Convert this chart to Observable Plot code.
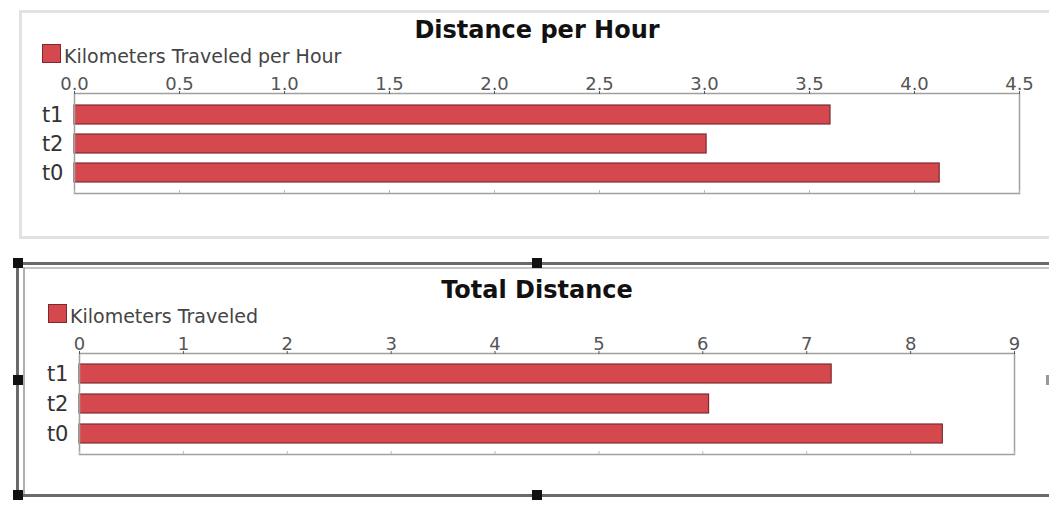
<!DOCTYPE html>
<html><head><meta charset="utf-8">
<script src="https://cdn.jsdelivr.net/npm/d3@7"></script>
<script src="https://cdn.jsdelivr.net/npm/@observablehq/plot@0.6"></script>
<style>
html,body{margin:0;padding:0;background:#fff;}
#page{position:relative;width:1049px;height:506px;overflow:hidden;font-family:"DejaVu Sans",sans-serif;}
#page svg{position:absolute;left:0;}
.title{position:absolute;left:0;width:1074px;text-align:center;font-weight:bold;font-size:24px;line-height:24px;color:#111;white-space:nowrap;}
.legtext{position:absolute;font-size:19px;line-height:19px;color:#444;white-space:nowrap;}
.legsw{position:absolute;width:17px;height:17px;background:#d5494e;border:1px solid #7a2a2c;}
.ln{position:absolute;}
.hd{position:absolute;width:10px;height:10px;background:#111;}
</style></head>
<body><div id="page">
<div class="ln" style="left:19px;top:10px;width:1040px;height:229px;border:3px solid #e2e2e2;box-sizing:border-box;"></div>
<div class="title" style="top:18px;">Distance per Hour</div>
<div class="legsw" style="left:42px;top:44px;"></div>
<div class="legtext" style="left:64px;top:47px;">Kilometers Traveled per Hour</div>

<div class="ln" style="left:24px;top:267px;width:1030px;height:2px;background:#c4c4c4;"></div>
<div class="ln" style="left:23px;top:267px;width:2px;height:228px;background:#b0b0b0;"></div>
<div class="ln" style="left:17px;top:262px;width:1040px;height:3px;background:#6a6a6a;"></div>
<div class="ln" style="left:17px;top:494px;width:1040px;height:3px;background:#6a6a6a;"></div>
<div class="ln" style="left:16px;top:262px;width:3px;height:235px;background:#6a6a6a;"></div>
<div class="title" style="top:278px;">Total Distance</div>
<div class="legsw" style="left:48px;top:304px;"></div>
<div class="legtext" style="left:70px;top:307px;">Kilometers Traveled</div>
<div class="hd" style="left:13px;top:258px;"></div>
<div class="hd" style="left:532px;top:258px;"></div>
<div class="hd" style="left:13px;top:375px;"></div>
<div class="hd" style="left:13px;top:490px;"></div>
<div class="hd" style="left:532px;top:490px;"></div>
<div class="hd" style="left:1046px;top:375px;background:#999;"></div>
</div>
<script>
const categories = ["t1", "t2", "t0"];
const kmPerHour = [3.6, 3.01, 4.12];
const kmTotal = [7.24, 6.06, 8.31];
const ticksPerHour = [0, 0.5, 1.0, 1.5, 2.0, 2.5, 3.0, 3.5, 4.0, 4.5];
const ticksTotal = [0, 1, 2, 3, 4, 5, 6, 7, 8, 9];

const barFill = "#d5494e";
const barStroke = "#7e2c2f";

function chart(values, ticks, fmt, opts) {
  const data = categories.map((c, i) => ({cat: c, value: values[i]}));
  return Plot.plot({
    width: 1049,
    height: opts.height,
    marginTop: opts.top,
    marginBottom: opts.bottom,
    marginLeft: opts.left,
    marginRight: opts.right,
    style: {background: "transparent", fontFamily: "'DejaVu Sans', sans-serif", color: "#555"},
    x: {domain: [ticks[0], ticks[ticks.length - 1]], label: null},
    y: {domain: categories, padding: 0.36, label: null},
    marks: [
      Plot.barX(data, {x: "value", y: "cat", fill: barFill, stroke: barStroke, strokeWidth: 1.2}),
      Plot.frame({stroke: "#a0a0a0", strokeWidth: 1.5}),
      Plot.axisX({anchor: "top", ticks, tickFormat: fmt, tickSize: 3, tickPadding: 1, fontSize: 18, color: "#555", label: null}),
      Plot.axisX({anchor: "bottom", ticks, tickSize: -3, tickFormat: () => "", color: "#bbb", label: null}),
      Plot.axisY({anchor: "left", tickSize: 0, tickPadding: 11, fontSize: 21, color: "#333", label: null})
    ]
  });
}

const page = document.getElementById("page");
const c1 = chart(kmPerHour, ticksPerHour, d => d.toFixed(1), {height: 240, top: 93, bottom: 47, left: 74, right: 30});
c1.style.top = "0px";
const c2 = chart(kmTotal, ticksTotal, d => String(d), {height: 261, top: 108, bottom: 52, left: 79, right: 35});
c2.style.top = "245px";
page.insertBefore(c2, page.firstChild);
page.insertBefore(c1, page.firstChild);
</script>
</body></html>
